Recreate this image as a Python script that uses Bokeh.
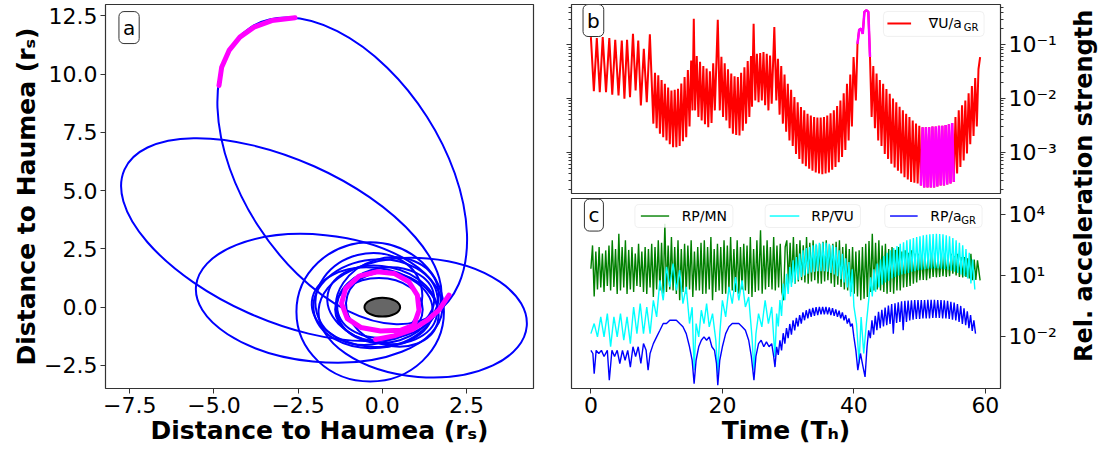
import math
from bokeh.plotting import figure
from bokeh.layouts import row, column
from bokeh.models import (Range1d, FixedTicker, CustomJSTickFormatter, LogAxis,
                          Label, BoxAnnotation)
from bokeh.embed import file_html
from bokeh.resources import INLINE

FONT = "DejaVu Sans"

# ---------------- data: panel a (orbit, distances in r_s) ----------------
# blue orbit loops (centre, width along x-units, height along y-units, tilt in rad)
loop_x = [-1.19, -3.0, -1.875, 1.2, -0.36, -0.2, 0.0, 0.1, -0.3, 0.15, -0.1, -0.4, 0.3]
loop_y = [5.85, 2.9, 0.38, -0.45, -0.2, 0.15, 0.1, 0.2, 0.0, 0.3, -0.1, 0.35, -0.1]
loop_w = [10.11, 10.2, 7.35, 6.2, 4.38, 3.7, 3.3, 2.9, 3.6, 3.1, 2.6, 3.2, 2.8]
loop_h = [8.63, 6.9, 5.45, 5.1, 5.98, 3.8, 3.3, 3.0, 3.4, 3.6, 2.7, 3.9, 3.1]
loop_a = [2.14, -0.42, -0.1, -0.08, 0.0, 0.1, -0.2, 0.15, -0.1, 0.3, 0.0, 0.25, -0.3]

# highlighted (magenta) parts of the trajectory
mag_top_x = [-4.85, -4.77, -4.55, -4.23, -3.81, -3.28, -2.59]
mag_top_y = [9.51, 10.30, 11.02, 11.59, 12.02, 12.30, 12.42]
mag_ring_x = [0.94, 1.09, 1.04, 0.79, 0.35, -0.15, -0.69, -1.09, -1.21, -1.04, -0.64, -0.05, 0.54, 0.94]
mag_ring_y = [-0.77, -0.13, 0.52, 1.09, 1.45, 1.52, 1.33, 0.80, 0.16, -0.49, -0.87, -1.02, -0.99, -0.77]
mag_tail_x = [-0.20, 0.35, 0.89, 1.34, 1.68, 1.98]
mag_tail_y = [-1.39, -1.23, -0.96, -0.56, -0.13, 0.52]

# Haumea body
body_x, body_y, body_w, body_h = [0.0], [0.0], [1.06], [0.8]

# ---------------- data: panel b (grad U / a_GR) ----------------
b_time = [0.0, 0.45, 0.9, 1.35, 1.8, 2.3, 2.8, 3.25, 3.7, 4.2, 4.7, 5.1, 5.5, 5.95, 6.4, 6.8,
          7.2, 7.6, 8.05, 8.5, 8.97,
          9.5, 9.75, 10.0, 10.25, 10.5, 10.75, 11.0, 11.25, 11.5, 11.75, 12.0, 12.25, 12.5,
          12.75, 13.0, 13.25, 13.5, 13.75, 14.0, 14.25, 14.5, 14.75, 15.0, 15.25, 15.45, 15.65,
          15.85, 16.1, 16.35, 16.6, 16.85, 17.1, 17.35, 17.6, 17.85, 18.1, 18.35, 18.6, 18.85,
          19.3, 19.6, 19.85, 20.1, 20.35, 20.6, 20.85, 21.1, 21.35, 21.6, 21.85, 22.1, 22.35,
          22.6, 22.85, 23.1, 23.35, 23.6, 23.85, 24.1, 24.35, 24.5, 24.75, 25.0, 25.25, 25.5,
          25.75, 26.0, 26.25, 26.5, 26.75, 27.0, 27.25, 27.5, 27.9, 28.2, 28.45, 28.7, 28.95,
          29.2, 29.45, 29.7, 29.95, 30.2, 30.45, 30.7, 30.95, 31.2, 31.45, 31.7, 31.95, 32.2,
          32.45, 32.7, 32.95, 33.2, 33.45, 33.7, 33.95, 34.2, 34.45, 34.7, 34.95, 35.2, 35.45,
          35.7, 35.95, 36.2, 36.45, 36.7, 36.95, 37.2, 37.45, 37.7, 37.95, 38.2, 38.45, 38.7,
          38.95, 39.2, 39.45, 39.7, 39.95, 40.3, 40.55, 40.8, 41.1, 41.35, 41.6, 41.9, 42.2,
          42.45, 42.7, 42.95, 43.2, 43.45, 43.7, 43.95, 44.2, 44.45, 44.7, 44.95, 45.2, 45.45,
          45.7, 45.95, 46.2, 46.45, 46.7, 46.95, 47.2, 47.45, 47.7, 47.95, 48.2, 48.45, 48.7,
          48.95, 49.2, 49.45, 49.7, 49.95, 50.2, 50.45, 50.7, 50.95, 51.2, 51.45, 51.7, 51.95,
          52.2, 52.45, 52.7, 52.95, 53.2, 53.45, 53.7, 53.95, 54.2, 54.45, 54.7, 54.95, 55.2,
          55.45, 55.7, 55.95, 56.2, 56.45, 56.7, 56.95, 57.2, 57.45, 57.7, 57.95, 58.2, 58.45,
          58.7, 58.95, 59.2]
b_value = [0.139, 0.0137, 0.133, 0.0131, 0.139, 0.0131, 0.133, 0.0117, 0.124, 0.0114, 0.120,
           0.0099, 0.124, 0.0106, 0.160, 0.0141, 0.120, 0.0074, 0.084, 0.0085, 0.156,
           0.0034, 0.030, 0.0028, 0.027, 0.0022, 0.022, 0.0019, 0.0188, 0.00165, 0.016, 0.0014,
           0.0141, 0.00124, 0.0145, 0.00124, 0.0151, 0.0013, 0.019, 0.0016, 0.025, 0.0019,
           0.034, 0.0030, 0.051, 0.006, 0.305, 0.006, 0.062, 0.0045, 0.048, 0.0039, 0.040,
           0.0033, 0.036, 0.0029, 0.032, 0.0035, 0.045, 0.006, 0.292, 0.006, 0.060, 0.0045,
           0.045, 0.0039, 0.035, 0.0028, 0.029, 0.0022, 0.026, 0.0021, 0.025, 0.00205, 0.030,
           0.0025, 0.038, 0.0034, 0.050, 0.0045, 0.062, 0.007, 0.246, 0.0092, 0.068, 0.0085,
           0.070, 0.0092, 0.073, 0.0075, 0.068, 0.006, 0.063, 0.0080, 0.213, 0.0092, 0.055,
           0.0050, 0.040, 0.0034, 0.028, 0.0024, 0.0188, 0.00165, 0.0145, 0.0013, 0.0106,
           0.00093, 0.0085, 0.00075, 0.0069, 0.00061, 0.0060, 0.00055, 0.0052, 0.00049, 0.0048,
           0.00045, 0.0045, 0.00042, 0.0044, 0.00040, 0.0044, 0.00039, 0.0045, 0.00040, 0.0048,
           0.00042, 0.0053, 0.00047, 0.0060, 0.00053, 0.0072, 0.00065, 0.0092, 0.00081, 0.0125,
           0.0011, 0.0188, 0.00165, 0.028, 0.0030, 0.059, 0.0092, 0.104, 0.19, 0.20, 0.16, 0.41,
           0.44, 0.41, 0.059, 0.0045, 0.040, 0.0028, 0.029, 0.00165, 0.022, 0.0013, 0.0188,
           0.00093, 0.015, 0.00075, 0.0122, 0.00061, 0.0100, 0.00052, 0.0085, 0.00045, 0.0070,
           0.00040, 0.0060, 0.00034, 0.0052, 0.00031, 0.0045, 0.00028, 0.0039, 0.00027, 0.0034,
           0.00026, 0.0031, 0.00024, 0.0029, 0.00022, 0.0029, 0.00022, 0.0029, 0.00022, 0.0030,
           0.00022, 0.0030, 0.00023, 0.0031, 0.00024, 0.0031, 0.00024, 0.0032, 0.00025, 0.0033,
           0.00026, 0.0035, 0.00028, 0.0045, 0.00040, 0.0060, 0.00053, 0.0075, 0.00070, 0.0092,
           0.00095, 0.0125, 0.00140, 0.0170, 0.0020, 0.024, 0.0030, 0.035, 0.059]
b_highlight = [(40.5, 42.5), (50.1, 55.3)]

# ---------------- data: panel c ----------------
green_t = [0.0, 0.25, 0.5, 0.75, 1.0, 1.25, 1.5, 1.75, 2.0, 2.25, 2.5, 2.75, 3.0, 3.25, 3.5,
           3.75, 4.0, 4.25, 4.5, 4.75, 5.0, 5.25, 5.5, 5.75, 6.0, 6.25, 6.5, 6.75, 7.0, 7.25,
           7.5, 7.75, 8.0, 8.25, 8.5, 8.75, 9.0, 9.25, 9.5, 9.75, 10.0, 10.25, 10.5, 10.75, 11.0,
           11.25, 11.5, 11.75, 12.0, 12.25, 12.5, 12.75, 13.0, 13.25, 13.5, 13.75, 14.0, 14.25,
           14.5, 14.75, 15.0, 15.25, 15.5, 15.75, 16.0, 16.25, 16.5, 16.75, 17.0, 17.25, 17.5,
           17.75, 18.0, 18.25, 18.5, 18.75, 19.0, 19.25, 19.5, 19.75, 20.0, 20.25, 20.5, 20.75,
           21.0, 21.25, 21.5, 21.75, 22.0, 22.25, 22.5, 22.75, 23.0, 23.25, 23.5, 23.75, 24.0,
           24.25, 24.5, 24.75, 25.0, 25.25, 25.5, 25.8, 26.05, 26.3, 26.55, 26.8, 27.05, 27.3,
           27.55, 27.8, 28.05, 28.3, 28.55, 28.8, 29.05, 29.3, 29.55, 29.8, 30.05, 30.3, 30.55,
           30.8, 31.05, 31.3, 31.55, 31.8, 32.05, 32.3, 32.55, 32.8, 33.05, 33.3, 33.55, 33.8,
           34.05, 34.3, 34.55, 34.8, 35.05, 35.3, 35.55, 35.8, 36.05, 36.3, 36.55, 36.8, 37.05,
           37.3, 37.55, 37.8, 38.05, 38.3, 38.55, 38.8, 39.05, 39.3, 39.55, 39.8, 40.05, 40.3,
           40.55, 40.8, 41.05, 41.3, 41.55, 41.8, 42.05, 42.3, 42.55, 42.8, 43.05, 43.3, 43.55,
           43.8, 44.05, 44.3, 44.55, 44.8, 45.05, 45.3, 45.55, 45.8, 46.05, 46.3, 46.55, 46.8,
           47.05, 47.3, 47.55, 47.8, 48.05, 48.3, 48.55, 48.8, 49.05, 49.3, 49.55, 49.8, 50.05,
           50.3, 50.55, 50.8, 51.05, 51.3, 51.55, 51.8, 52.05, 52.3, 52.55, 52.8, 53.05, 53.3,
           53.55, 53.8, 54.05, 54.3, 54.55, 54.8, 55.05, 55.3, 55.55, 55.8, 56.05, 56.3, 56.55,
           56.8, 57.05, 57.3, 57.55, 57.8, 58.05, 58.3, 58.55, 58.8, 59.2]
green_v = [21, 300, 0.9, 150, 2.0, 250, 2.5, 120, 1.5, 170, 3.0, 300, 1.8, 530, 2.7, 200, 1.2,
           1130, 1.8, 250, 2.5, 530, 1.2, 180, 2.0, 250, 1.5, 120, 3.0, 363, 2.7, 150, 1.5, 250,
           1.2, 200, 2.5, 363, 0.86, 250, 2.0, 530, 1.8, 400, 1.25, 3510, 1.5, 300, 2.0, 773,
           1.8, 250, 1.2, 530, 0.59, 200, 1.5, 363, 1.25, 300, 2.0, 530, 0.86, 150, 1.8, 249,
           1.8, 400, 1.2, 530, 1.25, 250, 2.0, 773, 0.59, 200, 1.5, 363, 1.8, 250, 1.2, 530,
           1.25, 300, 2.0, 773, 1.8, 200, 1.5, 530, 1.25, 250, 2.0, 363, 1.8, 300, 1.2, 773,
           0.86, 200, 1.5, 530, 1.8, 1650, 1.25, 300, 2.0, 530, 2.7, 250, 2.0, 773, 1.8, 300,
           2.5, 363, 1.5, 0.59, 250, 530, 3.9, 400, 4.5, 773, 3.9, 350, 5.0, 530, 5.7, 300, 4.5,
           773, 3.9, 400, 5.0, 530, 5.7, 300, 4.0, 363, 3.9, 450, 5.0, 530, 5.7, 300, 4.0, 363,
           2.7, 450, 3.5, 530, 2.7, 250, 2.0, 363, 1.8, 200, 1.5, 249, 1.25, 150, 0.9, 171,
           0.59, 250, 0.7, 363, 0.86, 500, 1.5, 1130, 1.8, 400, 2.0, 530, 1.8, 300, 1.5, 363,
           1.25, 200, 1.5, 249, 1.25, 180, 1.8, 249, 1.8, 150, 2.5, 171, 2.7, 130, 3.0, 171,
           3.9, 120, 4.5, 117, 5.7, 100, 6.0, 117, 5.7, 90, 7.0, 117, 8.3, 90, 8.0, 80, 8.3,
           100, 9.0, 117, 8.3, 90, 9.0, 117, 12, 90, 10, 117, 8.3, 80, 8.0, 80, 8.3, 70, 7.0,
           117, 5.7, 60, 6.0, 55, 5.7]

cyan_t = [0.0, 0.5, 1.0, 1.5, 2.0, 2.5, 3.0, 3.5, 4.0, 4.5, 5.0, 5.5, 6.0, 6.5, 7.0, 7.5, 8.0,
          8.5, 9.0, 9.5, 10.0, 10.5, 11.0, 11.5, 12.0, 12.5, 13.0, 13.5, 14.0, 14.5, 15.0, 15.4,
          15.7, 16.0, 16.4, 16.8, 17.2, 17.6, 18.0, 18.5, 19.0, 19.3, 19.6, 20.0, 20.5, 21.0,
          21.5, 22.0, 22.5, 23.0, 23.5, 24.0, 24.5, 24.8, 25.1, 25.5, 26.0, 26.5, 27.0, 27.5,
          28.0, 28.25, 28.5, 28.75, 29.0, 29.25, 29.5, 29.75, 30.0, 30.25, 30.5, 30.75, 31.0,
          31.25, 31.5, 31.75, 32.0, 32.25, 32.5, 32.75, 33.0, 33.25, 33.5, 33.75, 34.0, 34.25,
          34.5, 34.75, 35.0, 35.25, 35.5, 35.75, 36.0, 36.25, 36.5, 36.75, 37.0, 37.25, 37.5,
          37.75, 38.0, 38.25, 38.5, 38.75, 39.0, 39.25, 39.5, 39.75, 40.0, 40.4, 40.8, 41.1,
          41.5, 41.9, 42.3, 42.55, 42.8, 43.05, 43.3, 43.55, 43.8, 44.05, 44.3, 44.55, 44.8,
          45.05, 45.3, 45.55, 45.8, 46.05, 46.3, 46.55, 46.8, 47.05, 47.3, 47.55, 47.8, 48.05,
          48.3, 48.55, 48.8, 49.05, 49.3, 49.55, 49.8, 50.05, 50.3, 50.55, 50.8, 51.05, 51.3,
          51.55, 51.8, 52.05, 52.3, 52.55, 52.8, 53.05, 53.3, 53.55, 53.8, 54.05, 54.3, 54.55,
          54.8, 55.05, 55.3, 55.55, 55.8, 56.05, 56.3, 56.55, 56.8, 57.05, 57.3, 57.55, 57.8,
          58.05, 58.4]
cyan_v = [0.0134, 0.042, 0.0092, 0.089, 0.0092, 0.13, 0.003, 0.089, 0.0092, 0.13, 0.0063,
          0.089, 0.0043, 0.275, 0.0134, 0.40, 0.0134, 0.275, 0.0134, 0.59, 0.089, 5.7, 0.59, 26,
          2.7, 38, 1.8, 18, 0.40, 2.7, 0.042, 0.27, 0.00021, 0.042, 0.0092, 0.19, 0.042, 0.40,
          0.029, 0.13, 0.0063, 0.00014, 0.013, 0.59, 0.089, 2.7, 0.40, 8.3, 0.59, 5.7, 0.275,
          0.86, 0.0092, 0.00021, 0.013, 0.13, 0.029, 0.59, 0.042, 0.275,
          0.00095, 0.13, 0.03, 0.6, 0.1, 3.9, 0.59, 12, 1.2, 26, 2.7, 55, 4.0, 80, 6.0, 120, 8.3,
          171, 10, 220, 12, 249, 14, 300, 15, 363, 16, 400, 16, 420, 16, 400, 15, 363, 13, 300,
          11, 249, 9, 171, 6.5, 117, 4.5, 70, 2.5, 45, 0.9, 20, 0.3, 0.042, 0.00045, 0.089,
          0.0014, 0.042, 0.86, 8, 0.9, 20, 1.5, 38, 2.5, 60, 3.5, 90, 4.5, 130, 5.5, 171, 7, 220,
          8.3, 280, 10, 363, 11, 430, 12, 530, 13, 600, 15, 700, 16, 773, 18, 850, 19, 950, 20,
          1000, 21, 1050, 22, 1100, 22, 1130, 22, 1100, 21, 1050, 20, 950, 19, 850, 17, 700, 15,
          530, 13, 400, 11, 300, 9, 200, 7, 130, 4, 60, 2.0]

blue_t = [0.0, 0.3, 0.5, 0.8, 1.2, 1.6, 2.0, 2.5, 2.8, 3.2, 3.6, 4.0, 4.4, 4.8, 5.2, 5.6, 6.0,
          6.4, 6.8, 7.2, 7.6, 8.0, 8.4, 8.7, 9.0, 9.5, 10.0, 10.5, 11.0, 11.5, 12.0, 12.5, 13.0,
          13.5, 14.0, 14.5, 15.0, 15.4, 15.7, 16.0, 16.4, 16.8, 17.2, 17.6, 18.0, 18.4, 18.8,
          19.1, 19.3, 19.6, 20.0, 20.5, 21.0, 21.5, 22.0, 22.5, 23.0, 23.5, 24.0, 24.4, 24.8,
          25.1, 25.5, 25.9, 26.3, 26.7, 27.1, 27.5, 27.8,
          28.0, 28.25, 28.5, 28.75, 29.0, 29.25, 29.5, 29.75, 30.0, 30.25, 30.5, 30.75, 31.0,
          31.25, 31.5, 31.75, 32.0, 32.25, 32.5, 32.75, 33.0, 33.25, 33.5, 33.75, 34.0, 34.25,
          34.5, 34.75, 35.0, 35.25, 35.5, 35.75, 36.0, 36.25, 36.5, 36.75, 37.0, 37.25, 37.5,
          37.75, 38.0, 38.25, 38.5, 38.75, 39.0, 39.25, 39.5, 39.75, 40.0, 40.3, 40.6, 41.0,
          41.4, 41.7, 42.0, 42.25, 42.5, 42.75, 43.0, 43.25, 43.5, 43.75, 44.0, 44.25, 44.5,
          44.75, 45.0, 45.25, 45.5, 45.75, 46.0, 46.25, 46.5, 46.75, 47.0, 47.25, 47.5, 47.75,
          48.0, 48.25, 48.5, 48.75, 49.0, 49.25, 49.5, 49.75, 50.0, 50.25, 50.5, 50.75, 51.0,
          51.25, 51.5, 51.75, 52.0, 52.25, 52.5, 52.75, 53.0, 53.25, 53.5, 53.75, 54.0, 54.25,
          54.5, 54.75, 55.0, 55.25, 55.5, 55.75, 56.0, 56.25, 56.5, 56.75, 57.0, 57.25, 57.5,
          57.75, 58.0, 58.25, 58.5]
blue_v = [0.0020, 0.0014, 0.00014, 0.0020, 0.0014, 0.0020, 0.0010, 0.0020, 0.000067, 0.0020,
          0.0010, 0.0020, 0.00045, 0.0020, 0.00065, 0.0020, 0.00030, 0.0030, 0.0010, 0.0030,
          0.00045, 0.0043, 0.0020, 0.00021, 0.0014, 0.0043, 0.0092, 0.0195, 0.042, 0.042,
          0.061, 0.061, 0.061, 0.042, 0.029, 0.0134, 0.0030, 0.00065, 0.000046, 0.00065, 0.0030,
          0.0063, 0.0092, 0.0063, 0.0092, 0.0030, 0.0020, 0.00045, 0.000038, 0.00065, 0.0030,
          0.0134, 0.029, 0.042, 0.042, 0.042, 0.029, 0.0195, 0.0063, 0.0010, 0.000067, 0.0010,
          0.0043, 0.0063, 0.0030, 0.0052, 0.0030, 0.0043, 0.0010,
          0.00030, 0.0030, 0.0012, 0.0063, 0.0020, 0.0140, 0.0043, 0.025, 0.0080, 0.040, 0.0120,
          0.061, 0.0195, 0.080, 0.030, 0.11, 0.042, 0.15, 0.061, 0.19, 0.075, 0.22, 0.089, 0.25,
          0.10, 0.27, 0.11, 0.28, 0.12, 0.28, 0.12, 0.275, 0.12, 0.26, 0.11, 0.24, 0.10, 0.21,
          0.089, 0.18, 0.075, 0.15, 0.061, 0.11, 0.042, 0.075, 0.030, 0.042, 0.0092, 0.0020,
          0.00021, 0.0014, 0.00030, 0.000098, 0.0030, 0.0195, 0.0080, 0.060, 0.012, 0.10, 0.020,
          0.16, 0.025, 0.20, 0.030, 0.26, 0.035, 0.32, 0.040, 0.38, 0.0134, 0.42, 0.045, 0.47,
          0.050, 0.52, 0.0195, 0.55, 0.050, 0.57, 0.060, 0.59, 0.065, 0.60, 0.070, 0.60, 0.070,
          0.61, 0.075, 0.61, 0.075, 0.62, 0.075, 0.62, 0.080, 0.62, 0.080, 0.61, 0.080, 0.60,
          0.075, 0.58, 0.075, 0.55, 0.070, 0.50, 0.065, 0.45, 0.060, 0.38, 0.050, 0.31, 0.040,
          0.24, 0.035, 0.17, 0.025, 0.11, 0.018, 0.06, 0.0134]

# ---------------- styling helpers ----------------
TICK_PX = "22px"
LABEL_PX = "25px"
FRAME = "#333333"


def style_axis(ax, labels=True):
    ax.axis_line_color = None
    ax.major_tick_line_color = FRAME
    ax.minor_tick_line_color = FRAME
    ax.major_tick_in = 0
    ax.minor_tick_in = 0
    ax.major_tick_out = 5
    ax.minor_tick_out = 3
    ax.major_label_text_font = FONT
    ax.major_label_text_font_size = TICK_PX if labels else "0px"
    ax.major_label_text_color = "black"
    ax.major_label_standoff = 3
    ax.axis_label_text_font = FONT
    ax.axis_label_text_font_size = LABEL_PX
    ax.axis_label_text_font_style = "bold"
    ax.axis_label_text_color = "black"
    ax.axis_label_standoff = 0


def frame_style(p):
    p.grid.visible = False
    p.outline_line_color = FRAME
    p.outline_line_width = 1.2
    p.background_fill_color = "white"
    p.border_fill_color = "white"


def panel_tag(p, x, y, txt):
    p.add_layout(Label(x=x, y=y, text=txt, text_font=FONT, text_font_size="20px",
                       text_color="black", text_align="center", text_baseline="middle",
                       padding=4, border_line_color=FRAME, border_line_width=1,
                       border_radius=5, background_fill_color="white",
                       background_fill_alpha=1.0))


sup = ("const s={'-':'\\u207b','0':'\\u2070','1':'\\u00b9','2':'\\u00b2','3':'\\u00b3',"
       "'4':'\\u2074','5':'\\u2075','6':'\\u2076','7':'\\u2077','8':'\\u2078','9':'\\u2079'};"
       "const e=Math.round(Math.log10(tick));"
       "return '10'+String(e).split('').map(c=>s[c]).join('');")
log_fmt = CustomJSTickFormatter(code=sup)
lin_fmt = CustomJSTickFormatter(code="return (tick < 0 ? '\\u2212' : '') + Math.abs(tick).toFixed(1);")
blank_fmt = CustomJSTickFormatter(code="return '';")

# ---------------- panel a ----------------
pa = figure(width=563, height=449, x_range=Range1d(-8.22, 4.49), y_range=Range1d(-3.49, 12.99),
            min_border_left=105, min_border_right=30, min_border_top=4, min_border_bottom=61,
            output_backend="svg", toolbar_location=None)
frame_style(pa)
for ax in pa.axis:
    style_axis(ax)
    ax.minor_tick_line_color = None
    ax.formatter = lin_fmt
pa.xaxis.ticker = FixedTicker(ticks=[-7.5, -5.0, -2.5, 0.0, 2.5])
pa.yaxis.ticker = FixedTicker(ticks=[-2.5, 0.0, 2.5, 5.0, 7.5, 10.0, 12.5])
pa.xaxis.axis_label = "Distance to Haumea (r\u209b)"
pa.yaxis.axis_label = "Distance to Haumea (r\u209b)"

pa.ellipse(x=loop_x, y=loop_y, width=loop_w, height=loop_h, angle=loop_a,
           fill_color=None, line_color="#0000ff", line_width=2)
for xs, ys in [(mag_top_x, mag_top_y), (mag_ring_x, mag_ring_y), (mag_tail_x, mag_tail_y)]:
    pa.line(xs, ys, line_color="#ff00ff", line_width=5, line_join="round", line_cap="round")
pa.ellipse(x=body_x, y=body_y, width=body_w, height=body_h, fill_color="#666666",
           line_color="black", line_width=2)
panel_tag(pa, -7.52, 12.0, "a")

# ---------------- panel b ----------------
t_range = Range1d(-2.95, 62.3)
pb = figure(width=499, height=196, x_range=t_range, y_range=Range1d(1.70e-4, 0.562),
            y_axis_type="log", y_axis_location="right", x_axis_location=None,
            min_border_left=8, min_border_right=62, min_border_top=4, min_border_bottom=3,
            output_backend="svg", toolbar_location=None)
frame_style(pb)
b_major = [1e-3, 1e-2, 1e-1]
b_minor = [m * d for d in (1e-4, 1e-3, 1e-2, 1e-1) for m in range(2, 10)]
for ax in pb.yaxis:
    style_axis(ax)
    ax.ticker = FixedTicker(ticks=b_major, minor_ticks=b_minor)
    ax.formatter = log_fmt
left_b = LogAxis(ticker=FixedTicker(ticks=b_major, minor_ticks=b_minor), formatter=blank_fmt)
style_axis(left_b, labels=False)
left_b.major_label_standoff = 0
pb.add_layout(left_b, "left")

pb.line(b_time, b_value, line_color="#ff0000", line_width=2)
for lo, hi in b_highlight:
    idx = [i for i, t in enumerate(b_time) if lo <= t <= hi]
    pb.line([b_time[i] for i in idx], [b_value[i] for i in idx], line_color="#ff00ff",
            line_width=2.5)
panel_tag(pb, 0.38, 0.283, "b")

# legend b
pb.add_layout(BoxAnnotation(left=44.5, right=59.8, bottom=0.143, top=0.417, fill_color="white",
                            fill_alpha=0.85, line_color="#cccccc", line_width=1, border_radius=4))
rb = pb.segment(x0=[45.1], y0=[0.249], x1=[48.7], y1=[0.249], line_color="#ff0000", line_width=2)
rb.level = "overlay"
pb.add_layout(Label(x=51.4, y=0.249, text="\u2207U/a", text_font=FONT, text_font_size="14px",
                    text_color="black", text_align="left", text_baseline="middle"))
pb.add_layout(Label(x=51.4, y=0.249, x_offset=35, y_offset=-4, text="GR", text_font=FONT,
                    text_font_size="10px", text_color="black", text_align="left",
                    text_baseline="middle"))

# ---------------- panel c ----------------
pc = figure(width=499, height=253, x_range=t_range, y_range=Range1d(2.63e-5, 6.17e4),
            y_axis_type="log", y_axis_location="right",
            min_border_left=8, min_border_right=62, min_border_top=2, min_border_bottom=61,
            output_backend="svg", toolbar_location=None)
frame_style(pc)
for ax in pc.yaxis:
    style_axis(ax)
    ax.ticker = FixedTicker(ticks=[1e-2, 1e1, 1e4], minor_ticks=[])
    ax.formatter = log_fmt
for ax in pc.xaxis:
    style_axis(ax)
    ax.ticker = FixedTicker(ticks=[0, 20, 40, 60], minor_ticks=[])
    ax.axis_label = "Time (T\u2095)"

pc.line(green_t, green_v, line_color="#008000", line_width=1.4)
pc.line(cyan_t, cyan_v, line_color="#00ffff", line_width=1.4)
pc.line(blue_t, blue_v, line_color="#0000ff", line_width=1.4)
panel_tag(pc, 0.46, 9400, "c")

legend_c = [
    (6.7, 21.6, 7.6, 11.9, 13.8, "#008000", "RP/MN", None),
    (26.5, 41.0, 27.2, 31.7, 33.5, "#00ffff", "RP/\u2207U", None),
    (44.7, 59.5, 45.5, 49.7, 51.6, "#0000ff", "RP/a", "GR"),
]
for bl, br, l0, l1, tx, col, txt, sub in legend_c:
    pc.add_layout(BoxAnnotation(left=bl, right=br, bottom=2290, top=31100, fill_color="white",
                                fill_alpha=0.85, line_color="#cccccc", line_width=1,
                                border_radius=4))
    r = pc.segment(x0=[l0], y0=[8440], x1=[l1], y1=[8440], line_color=col, line_width=1.4)
    r.level = "overlay"
    pc.add_layout(Label(x=tx, y=8440, text=txt, text_font=FONT, text_font_size="14px",
                        text_color="black", text_align="left", text_baseline="middle"))
    if sub:
        pc.add_layout(Label(x=tx, y=8440, x_offset=31, y_offset=-4, text=sub, text_font=FONT,
                            text_font_size="10px", text_color="black", text_align="left",
                            text_baseline="middle"))

# ---------------- shared right-hand label ----------------
pl = figure(width=42, height=449, x_range=Range1d(0, 42), y_range=Range1d(0, 449),
            min_border=0, x_axis_location=None, y_axis_location=None,
            output_backend="svg", toolbar_location=None)
pl.grid.visible = False
pl.outline_line_color = None
pl.add_layout(Label(x=21, y=237, text="Rel. acceleration strength", angle=math.pi / 2,
                    text_align="center", text_baseline="middle", text_font=FONT,
                    text_font_style="bold", text_font_size="24px", text_color="black"))

layout = row(pa, column(pb, pc), pl)
open("out.html", "w").write(file_html(layout, INLINE))
